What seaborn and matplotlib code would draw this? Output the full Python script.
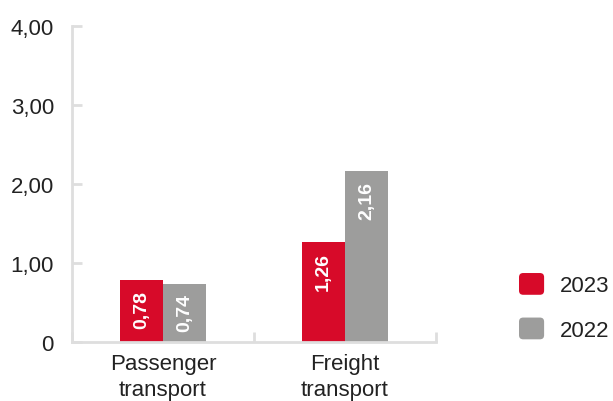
import matplotlib
matplotlib.use("Agg")
import matplotlib.pyplot as plt
import seaborn as sns
import pandas as pd
from matplotlib.patches import FancyBboxPatch
from matplotlib.legend_handler import HandlerPatch

categories = ["Passenger\ntransport", "Freight\ntransport"]
years = ["2023", "2022"]
values_2023 = [0.78, 1.26]
values_2022 = [0.74, 2.16]
y_ticks = [0, 1, 2, 3, 4]
y_tick_labels = ["0", "1,00", "2,00", "3,00", "4,00"]
colors = {"2023": "#d70a29", "2022": "#9d9d9c"}

df = pd.DataFrame({
    "category": categories * 2,
    "year": [years[0]] * 2 + [years[1]] * 2,
    "value": values_2023 + values_2022,
})

sns.set_style("white")
plt.rcParams["font.family"] = ["Liberation Sans", "DejaVu Sans"]

FS = 16

fig = plt.figure(figsize=(6.13, 4.02), dpi=100)
ax = fig.add_axes([72 / 613, 59 / 402, (436 - 72) / 613, (343 - 27) / 402])

sns.barplot(data=df, x="category", y="value", hue="year", hue_order=years,
            order=categories, palette=colors, width=0.472, gap=0,
            saturation=1, linewidth=0, ax=ax, legend=False)

ax.set_xlim(-0.5, 1.5)
ax.set_ylim(0, 4)
ax.set_xlabel("")
ax.set_ylabel("")

axis_color = "#dedede"
text_color = "#222222"
for side in ["top", "right"]:
    ax.spines[side].set_visible(False)
for side in ["left", "bottom"]:
    ax.spines[side].set_color(axis_color)
    ax.spines[side].set_linewidth(2)

ax.set_yticks(y_ticks)
ax.set_yticklabels(y_tick_labels)
ax.tick_params(axis="y", left=True, direction="in", length=7, width=2,
               color=axis_color, pad=13, labelsize=FS, labelcolor=text_color)

# Category boundary ticks, labels on minor ticks at category centres
ax.set_xticks([-0.5, 0.5, 1.5])
ax.set_xticklabels(["", "", ""])
ax.tick_params(axis="x", which="major", bottom=True, direction="in", length=7,
               width=2, color=axis_color)
ax.set_xticks([0, 1], minor=True)
ax.set_xticklabels(categories, minor=True, linespacing=1.3)
ax.tick_params(axis="x", which="minor", bottom=True, length=0, pad=8,
               labelsize=FS, labelcolor=text_color)

# Value labels inside the bars
for container, vals in zip(ax.containers, [values_2023, values_2022]):
    for bar, v in zip(container, vals):
        ax.annotate(f"{v:.2f}".replace(".", ","),
                    xy=(bar.get_x() + bar.get_width() / 2, bar.get_height()),
                    xytext=(0, -7), textcoords="offset points",
                    rotation=90, ha="center", va="top", color="white",
                    fontsize=14, fontweight="bold")


class RoundedSquare(HandlerPatch):
    def create_artists(self, legend, orig_handle, xdescent, ydescent,
                       width, height, fontsize, trans):
        p = FancyBboxPatch((-xdescent + 2, -ydescent + 2), width - 4, height - 4,
                           boxstyle="round,pad=2,rounding_size=3",
                           facecolor=orig_handle.get_facecolor(),
                           edgecolor="none", transform=trans)
        return [p]


handles = [plt.Rectangle((0, 0), 1, 1, color=colors[y]) for y in years]
fig.legend(handles, years, loc="center left", bbox_to_anchor=(499 / 613, 1 - 308 / 402),
           frameon=False, fontsize=FS, handlelength=1.13, handleheight=1.13,
           handletextpad=0.72, labelspacing=0.95, labelcolor=text_color,
           handler_map={plt.Rectangle: RoundedSquare()})

fig.savefig("out.png", dpi=100)
